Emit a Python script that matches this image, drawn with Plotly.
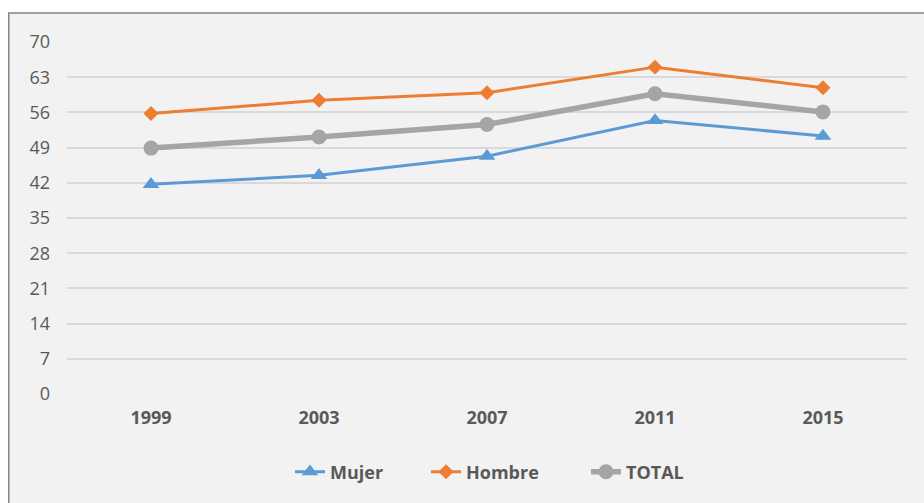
import plotly.graph_objects as go

years = ["1999", "2003", "2007", "2011", "2015"]
mujer = [41.7, 43.5, 47.3, 54.4, 51.3]
hombre = [55.8, 58.4, 59.9, 65.0, 60.9]
total = [48.9, 51.1, 53.6, 59.7, 56.1]
y_ticks = [0, 7, 14, 21, 28, 35, 42, 49, 56, 63, 70]

FONT = "Open Sans"
TXT = "#595959"

W, H = 924, 503
L, T, PW, PH = 67, 42, 840, 352

fig = go.Figure()
fig.add_trace(go.Scatter(x=years, y=mujer, name="Mujer", mode="lines+markers",
                         legend="legend",
                         line=dict(color="#5B9BD5", width=3),
                         marker=dict(symbol="triangle-up", size=14.5, color="#5B9BD5")))
fig.add_trace(go.Scatter(x=years, y=hombre, name="Hombre", mode="lines+markers",
                         legend="legend2",
                         line=dict(color="#ED7D31", width=3),
                         marker=dict(symbol="diamond", size=11.5, color="#ED7D31")))
fig.add_trace(go.Scatter(x=years, y=total, name="TOTAL", mode="lines+markers",
                         legend="legend3",
                         line=dict(color="#A5A5A5", width=5.5),
                         marker=dict(symbol="circle", size=15, color="#A5A5A5")))


def leg(text_start):
    return dict(orientation="h", x=(text_start - 40 - L) / PW, xanchor="left",
                y=(T + PH - 472) / PH, yanchor="middle",
                font=dict(family=FONT, size=18, color=TXT, weight="bold"),
                bgcolor="rgba(0,0,0,0)", borderwidth=0)


fig.update_layout(
    width=W, height=H,
    margin=dict(l=L, r=W - L - PW, t=T, b=H - T - PH),
    paper_bgcolor="white",
    plot_bgcolor="#F2F2F2",
    font=dict(family=FONT, color=TXT, size=18),
    showlegend=True,
    legend=leg(330), legend2=leg(466), legend3=leg(626),
    xaxis=dict(type="category", range=[-0.5, 4.5], showgrid=False, zeroline=False,
               showline=False, ticks="", ticklabelstandoff=11,
               tickfont=dict(family=FONT, size=18, color=TXT, weight="bold")),
    yaxis=dict(range=[0, 70], tickvals=y_ticks, showgrid=True, gridcolor="#D9D9D9",
               gridwidth=1.5, zeroline=False, showline=False, ticks="",
               ticklabelstandoff=16, tickfont=dict(family=FONT, size=18, color=TXT)),
    shapes=[dict(type="rect", xref="paper", yref="paper",
                 x0=(8.75 - L) / PW, x1=(960 - L) / PW,
                 y0=(T + PH - 540) / PH, y1=(T + PH - 13) / PH,
                 fillcolor="#F2F2F2", line=dict(color="#858585", width=1.5),
                 layer="below")],
)

fig.write_html("out.html",
               config={"displayModeBar": False},
               post_script="document.body.style.margin='0px';"
                           "document.body.style.overflow='hidden';")
